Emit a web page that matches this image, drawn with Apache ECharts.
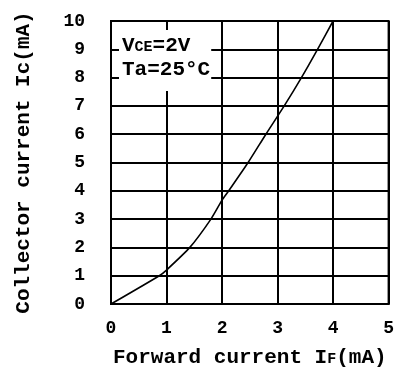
<!DOCTYPE html>
<html>
<head>
<meta charset="utf-8">
<script src="https://cdn.jsdelivr.net/npm/echarts@6/dist/echarts.min.js"></script>
<style>
html,body{margin:0;padding:0;background:#fff;}
#c{width:397px;height:379px;}
</style>
</head>
<body>
<div id="c"></div>
<script>
const forwardCurrent = [0, 0.87, 1.0, 1.42, 1.8, 2.0, 2.12, 2.47, 2.79, 3.12, 3.43, 3.72, 4.0];
const collectorCurrent = [0, 1.0, 1.2, 2.0, 3.0, 3.67, 4.0, 5.0, 6.0, 7.0, 8.0, 9.0, 10.0];
const xTicks = [0, 1, 2, 3, 4, 5];
const yTicks = [0, 1, 2, 3, 4, 5, 6, 7, 8, 9, 10];
const xAxisTitle = 'Forward current I{s|F}(mA)';
const yAxisTitle = 'Collector current Ic(mA)';

const FONT = '"Liberation Mono", "Courier New", monospace';
const chart = echarts.init(document.getElementById('c'));
chart.setOption({
  backgroundColor: '#fff',
  animation: false,
  grid: { left: 111, right: 4.5, top: 21, bottom: 75, show: true, borderColor: '#000', borderWidth: 2 },
  xAxis: {
    type: 'value', min: xTicks[0], max: xTicks[xTicks.length - 1], interval: 1,
    name: xAxisTitle,
    nameLocation: 'middle', nameGap: 42,
    nameTextStyle: { fontFamily: FONT, fontWeight: 'bold', fontSize: 21, color: '#000', lineHeight: 24,
      rich: { s: { fontFamily: FONT, fontWeight: 'bold', fontSize: 15, color: '#000', lineHeight: 24, verticalAlign: 'bottom', padding: [0, 0, 3, 0] } } },
    axisLine: { show: true, lineStyle: { color: '#000', width: 2 } },
    axisTick: { show: false },
    axisLabel: { margin: 15, fontFamily: FONT, fontWeight: 'bold', fontSize: 18, color: '#000' },
    splitLine: { show: true, lineStyle: { color: '#000', width: 2 } }
  },
  yAxis: {
    type: 'value', min: yTicks[0], max: yTicks[yTicks.length - 1], interval: 1,
    name: yAxisTitle,
    nameLocation: 'middle', nameGap: 77,
    nameTextStyle: { fontFamily: FONT, fontWeight: 'bold', fontSize: 21, color: '#000' },
    axisLine: { show: true, lineStyle: { color: '#000', width: 2 } },
    axisTick: { show: false },
    axisLabel: { margin: 26, fontFamily: FONT, fontWeight: 'bold', fontSize: 18, color: '#000' },
    splitLine: { show: true, lineStyle: { color: '#000', width: 2 } }
  },
  graphic: [{
    type: 'text', left: 119, top: 30, z: 100,
    style: {
      text: '{a|V}{b|CE}{a|=2V}\n{a|Ta=25°C}',
      backgroundColor: '#fff',
      padding: [4, 1, 9, 3],
      rich: {
        a: { fontFamily: FONT, fontWeight: 'bold', fontSize: 21, fill: '#000', lineHeight: 24 },
        b: { fontFamily: FONT, fontWeight: 'bold', fontSize: 15, fill: '#000', lineHeight: 24, verticalAlign: 'bottom', padding: [0, 0, 3, 0] }
      }
    }
  }],
  series: [{
    type: 'line',
    data: forwardCurrent.map((x, i) => [x, collectorCurrent[i]]),
    showSymbol: false,
    smooth: 0.2,
    lineStyle: { color: '#000', width: 1.6 },
    z: 5
  }]
});
</script>
</body>
</html>
